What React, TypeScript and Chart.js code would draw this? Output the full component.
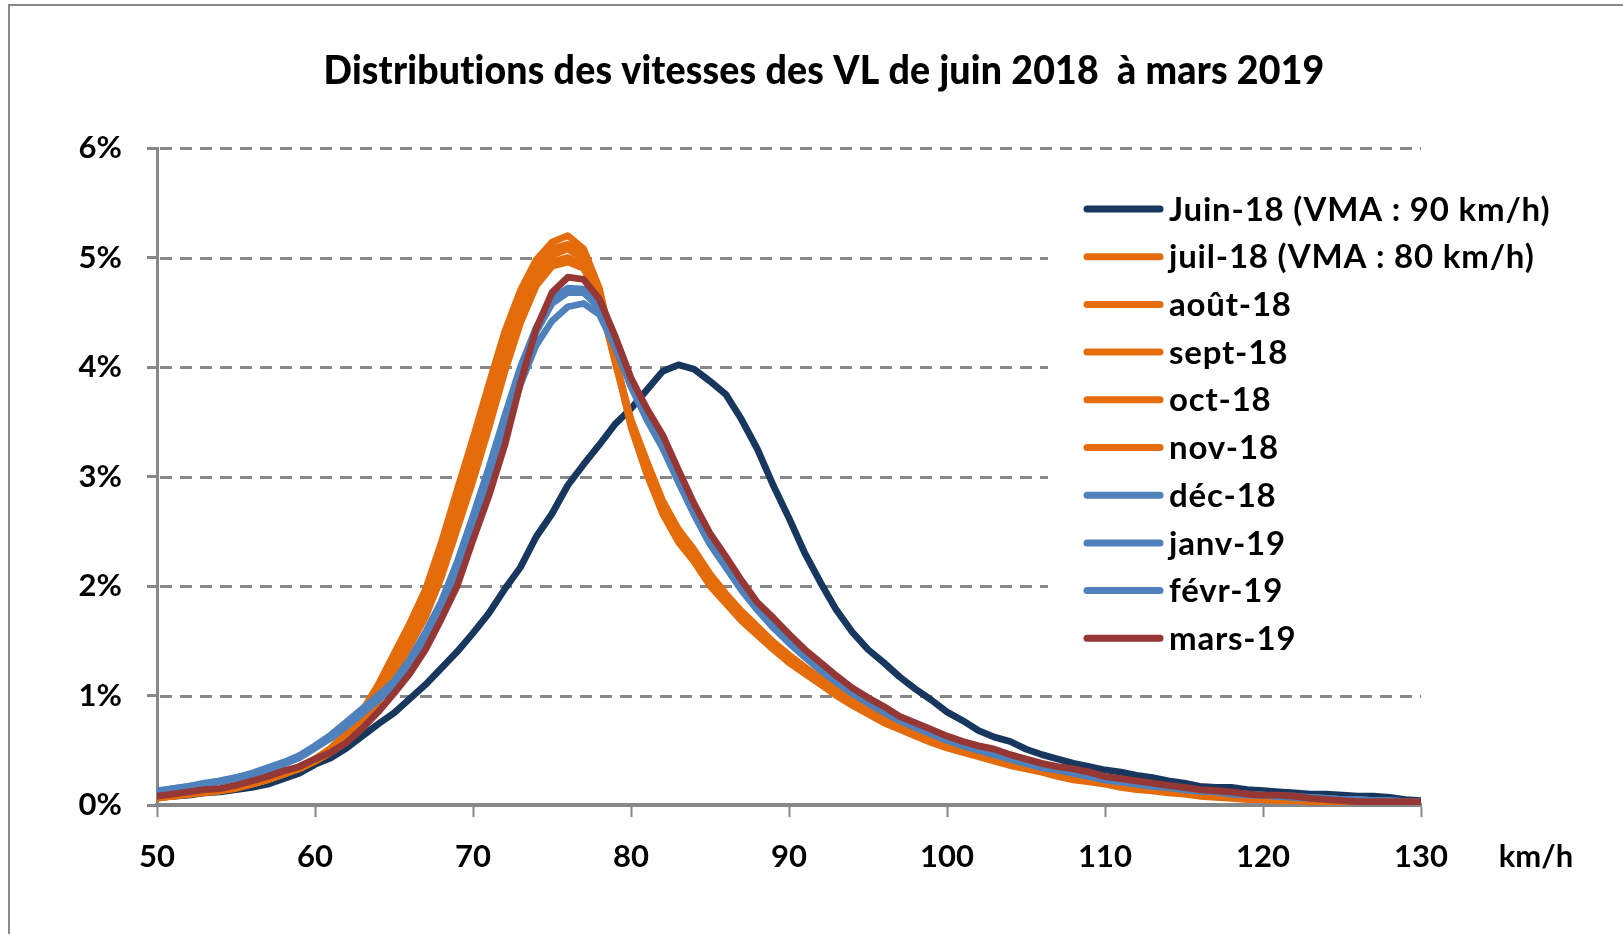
import React, { useEffect, useRef } from 'react';
import { Chart, registerables } from 'chart.js';

Chart.register(...registerables);

const TITLE = 'Distributions des vitesses des VL de juin 2018  à mars 2019';
const X_UNIT = 'km/h';

const speeds = [
  50, 51, 52, 53, 54, 55, 56, 57, 58, 59,
  60, 61, 62, 63, 64, 65, 66, 67, 68, 69,
  70, 71, 72, 73, 74, 75, 76, 77, 78, 79,
  80, 81, 82, 83, 84, 85, 86, 87, 88, 89,
  90, 91, 92, 93, 94, 95, 96, 97, 98, 99,
  100, 101, 102, 103, 104, 105, 106, 107, 108, 109,
  110, 111, 112, 113, 114, 115, 116, 117, 118, 119,
  120, 121, 122, 123, 124, 125, 126, 127, 128, 129, 130,
];

const yTickValues = [0, 1, 2, 3, 4, 5, 6];
const xTickValues = [50, 60, 70, 80, 90, 100, 110, 120, 130];

const seriesLabels = [
  'Juin-18 (VMA : 90 km/h)',
  'juil-18 (VMA : 80 km/h)',
  'août-18',
  'sept-18',
  'oct-18',
  'nov-18',
  'déc-18',
  'janv-19',
  'févr-19',
  'mars-19',
];

const seriesColors = [
  '#17375E',
  '#E46C0A',
  '#E46C0A',
  '#E46C0A',
  '#E46C0A',
  '#E46C0A',
  '#4F81BD',
  '#4F81BD',
  '#4F81BD',
  '#953735',
];

const juin18 = [
  0.07, 0.08, 0.09, 0.11, 0.12, 0.14, 0.16, 0.19, 0.24, 0.29,
  0.37, 0.43, 0.52, 0.63, 0.74, 0.84, 0.97, 1.10, 1.25, 1.40,
  1.57, 1.75, 1.97, 2.17, 2.45, 2.66, 2.92, 3.11, 3.29, 3.48,
  3.62, 3.79, 3.96, 4.02, 3.98, 3.87, 3.75, 3.52, 3.25, 2.92,
  2.62, 2.30, 2.03, 1.78, 1.58, 1.42, 1.30, 1.17, 1.06, 0.96,
  0.85, 0.77, 0.68, 0.62, 0.58, 0.51, 0.46, 0.42, 0.38, 0.35,
  0.32, 0.30, 0.27, 0.25, 0.22, 0.20, 0.17, 0.16, 0.16, 0.14,
  0.13, 0.12, 0.11, 0.10, 0.10, 0.09, 0.08, 0.08, 0.07, 0.05, 0.04,
];

const juil18 = [
  0.06, 0.08, 0.10, 0.11, 0.13, 0.15, 0.19, 0.23, 0.28, 0.35,
  0.42, 0.52, 0.66, 0.86, 1.10, 1.38, 1.66, 1.97, 2.40, 2.88,
  3.35, 3.84, 4.32, 4.70, 4.98, 5.14, 5.20, 5.08, 4.72, 4.08,
  3.45, 3.02, 2.66, 2.40, 2.22, 2.00, 1.84, 1.68, 1.55, 1.42,
  1.30, 1.20, 1.10, 1.00, 0.91, 0.83, 0.75, 0.69, 0.63, 0.57,
  0.52, 0.48, 0.44, 0.40, 0.36, 0.33, 0.30, 0.26, 0.23, 0.21,
  0.19, 0.16, 0.14, 0.13, 0.11, 0.10, 0.08, 0.07, 0.06, 0.05,
  0.05, 0.04, 0.04, 0.03, 0.03, 0.03, 0.03, 0.03, 0.02, 0.02, 0.02,
];

const aout18 = [
  0.07, 0.08, 0.10, 0.12, 0.13, 0.16, 0.19, 0.23, 0.28, 0.34,
  0.42, 0.51, 0.64, 0.83, 1.06, 1.34, 1.62, 1.92, 2.33, 2.80,
  3.26, 3.74, 4.22, 4.62, 4.92, 5.08, 5.12, 5.02, 4.70, 4.08,
  3.50, 3.10, 2.74, 2.47, 2.30, 2.08, 1.90, 1.74, 1.60, 1.47,
  1.35, 1.24, 1.14, 1.04, 0.94, 0.86, 0.78, 0.72, 0.66, 0.60,
  0.55, 0.51, 0.47, 0.42, 0.39, 0.35, 0.32, 0.28, 0.25, 0.22,
  0.20, 0.18, 0.16, 0.14, 0.12, 0.11, 0.09, 0.08, 0.07, 0.06,
  0.05, 0.05, 0.04, 0.04, 0.04, 0.04, 0.03, 0.03, 0.03, 0.03, 0.03,
];

const sept18 = [
  0.07, 0.08, 0.10, 0.12, 0.13, 0.16, 0.19, 0.23, 0.28, 0.34,
  0.41, 0.50, 0.62, 0.80, 1.02, 1.30, 1.56, 1.85, 2.25, 2.70,
  3.15, 3.62, 4.12, 4.52, 4.84, 5.02, 5.08, 4.98, 4.66, 4.05,
  3.48, 3.08, 2.72, 2.45, 2.28, 2.05, 1.88, 1.72, 1.58, 1.45,
  1.33, 1.22, 1.13, 1.03, 0.93, 0.85, 0.77, 0.71, 0.65, 0.59,
  0.54, 0.50, 0.46, 0.41, 0.38, 0.34, 0.31, 0.27, 0.24, 0.22,
  0.20, 0.17, 0.15, 0.14, 0.12, 0.11, 0.09, 0.08, 0.07, 0.06,
  0.05, 0.04, 0.04, 0.04, 0.03, 0.03, 0.03, 0.03, 0.03, 0.03, 0.03,
];

const oct18 = [
  0.07, 0.08, 0.10, 0.12, 0.14, 0.16, 0.19, 0.23, 0.28, 0.33,
  0.40, 0.49, 0.60, 0.77, 0.98, 1.25, 1.50, 1.78, 2.16, 2.60,
  3.05, 3.52, 4.02, 4.44, 4.78, 4.96, 5.00, 4.92, 4.62, 4.04,
  3.50, 3.12, 2.76, 2.50, 2.32, 2.10, 1.92, 1.76, 1.62, 1.48,
  1.36, 1.25, 1.15, 1.05, 0.95, 0.87, 0.79, 0.73, 0.67, 0.61,
  0.56, 0.52, 0.47, 0.43, 0.39, 0.35, 0.32, 0.28, 0.25, 0.23,
  0.21, 0.18, 0.16, 0.14, 0.13, 0.11, 0.10, 0.08, 0.07, 0.06,
  0.06, 0.05, 0.05, 0.04, 0.04, 0.04, 0.04, 0.03, 0.03, 0.03, 0.03,
];

const nov18 = [
  0.08, 0.09, 0.10, 0.12, 0.14, 0.17, 0.20, 0.24, 0.28, 0.33,
  0.40, 0.48, 0.58, 0.74, 0.94, 1.20, 1.45, 1.72, 2.08, 2.52,
  2.96, 3.44, 3.95, 4.40, 4.74, 4.92, 4.96, 4.90, 4.62, 4.06,
  3.52, 3.14, 2.78, 2.52, 2.33, 2.11, 1.93, 1.77, 1.63, 1.49,
  1.37, 1.26, 1.16, 1.06, 0.96, 0.88, 0.80, 0.74, 0.68, 0.62,
  0.57, 0.52, 0.48, 0.44, 0.40, 0.36, 0.32, 0.29, 0.26, 0.23,
  0.21, 0.19, 0.17, 0.15, 0.13, 0.12, 0.10, 0.09, 0.08, 0.07,
  0.06, 0.05, 0.05, 0.05, 0.04, 0.04, 0.04, 0.04, 0.03, 0.03, 0.03,
];

const dec18 = [
  0.13, 0.15, 0.17, 0.20, 0.22, 0.25, 0.29, 0.34, 0.39, 0.45,
  0.54, 0.64, 0.76, 0.88, 1.00, 1.13, 1.33, 1.58, 1.86, 2.22,
  2.64, 3.08, 3.55, 4.00, 4.36, 4.62, 4.72, 4.71, 4.56, 4.22,
  3.85, 3.54, 3.28, 2.97, 2.67, 2.40, 2.19, 1.98, 1.80, 1.64,
  1.50, 1.37, 1.25, 1.14, 1.03, 0.95, 0.86, 0.78, 0.72, 0.66,
  0.60, 0.56, 0.51, 0.47, 0.43, 0.39, 0.35, 0.33, 0.30, 0.27,
  0.24, 0.22, 0.20, 0.18, 0.16, 0.15, 0.13, 0.12, 0.11, 0.10,
  0.09, 0.08, 0.08, 0.07, 0.06, 0.05, 0.05, 0.04, 0.04, 0.03, 0.03,
];

const janv19 = [
  0.12, 0.15, 0.17, 0.19, 0.22, 0.25, 0.28, 0.33, 0.38, 0.44,
  0.53, 0.62, 0.74, 0.86, 0.98, 1.11, 1.30, 1.55, 1.83, 2.18,
  2.60, 3.04, 3.50, 3.96, 4.32, 4.58, 4.68, 4.68, 4.54, 4.21,
  3.84, 3.53, 3.27, 2.96, 2.66, 2.39, 2.18, 1.97, 1.79, 1.63,
  1.49, 1.36, 1.24, 1.13, 1.02, 0.94, 0.85, 0.78, 0.71, 0.65,
  0.59, 0.55, 0.50, 0.46, 0.42, 0.38, 0.35, 0.32, 0.29, 0.26,
  0.23, 0.21, 0.19, 0.17, 0.16, 0.14, 0.13, 0.12, 0.11, 0.10,
  0.09, 0.08, 0.07, 0.07, 0.06, 0.05, 0.05, 0.04, 0.04, 0.03, 0.03,
];

const fevr19 = [
  0.12, 0.14, 0.16, 0.19, 0.21, 0.24, 0.28, 0.32, 0.37, 0.43,
  0.52, 0.61, 0.72, 0.84, 0.96, 1.08, 1.27, 1.50, 1.78, 2.12,
  2.52, 2.95, 3.40, 3.84, 4.20, 4.42, 4.55, 4.58, 4.48, 4.18,
  3.82, 3.52, 3.26, 2.95, 2.65, 2.38, 2.17, 1.96, 1.78, 1.62,
  1.48, 1.35, 1.23, 1.12, 1.02, 0.93, 0.85, 0.77, 0.71, 0.65,
  0.59, 0.54, 0.50, 0.46, 0.42, 0.38, 0.34, 0.32, 0.29, 0.26,
  0.23, 0.21, 0.19, 0.17, 0.16, 0.14, 0.13, 0.12, 0.10, 0.09,
  0.09, 0.08, 0.07, 0.06, 0.06, 0.05, 0.05, 0.04, 0.04, 0.03, 0.03,
];

const mars19 = [
  0.08, 0.10, 0.12, 0.14, 0.15, 0.18, 0.22, 0.26, 0.31, 0.35,
  0.42, 0.48, 0.57, 0.70, 0.85, 1.02, 1.20, 1.42, 1.70, 2.00,
  2.42, 2.82, 3.28, 3.85, 4.35, 4.68, 4.82, 4.80, 4.62, 4.28,
  3.90, 3.62, 3.38, 3.06, 2.75, 2.48, 2.27, 2.05, 1.85, 1.71,
  1.56, 1.42, 1.30, 1.18, 1.07, 0.98, 0.90, 0.81, 0.75, 0.69,
  0.63, 0.58, 0.54, 0.51, 0.46, 0.42, 0.38, 0.35, 0.33, 0.30,
  0.26, 0.24, 0.22, 0.20, 0.18, 0.16, 0.14, 0.13, 0.12, 0.10,
  0.09, 0.09, 0.08, 0.06, 0.05, 0.04, 0.03, 0.03, 0.03, 0.03, 0.03,
];

const seriesValues = [juin18, juil18, aout18, sept18, oct18, nov18, dec18, janv19, fevr19, mars19];

const FONT = 'Lato, "Open Sans", "DejaVu Sans", sans-serif';
const GRID_COLOR = '#878787';

const decoPlugin = {
  id: 'deco',
  beforeDatasetsDraw(chart: any) {
    const { ctx, chartArea, scales } = chart;
    const y = scales.y;
    ctx.save();
    ctx.strokeStyle = GRID_COLOR;
    ctx.lineWidth = 3;
    ctx.setLineDash([12, 8]);
    for (const t of yTickValues) {
      if (t === 0) continue;
      const py = Math.round(y.getPixelForValue(t)) + 0.5;
      ctx.beginPath();
      ctx.moveTo(chartArea.left + 3, py);
      ctx.lineTo(chartArea.right, py);
      ctx.stroke();
    }
    ctx.restore();
  },
  afterDraw(chart: any) {
    const { ctx, chartArea } = chart;
    ctx.save();
    // outer frame
    ctx.strokeStyle = '#888888';
    ctx.lineWidth = 2;
    ctx.setLineDash([]);
    ctx.beginPath();
    ctx.moveTo(9, 2000);
    ctx.lineTo(9, 5);
    ctx.lineTo(1700, 5);
    ctx.stroke();

    // title, fitted to the reference width
    ctx.fillStyle = '#000';
    ctx.font = `900 39px ${FONT}`;
    try { (ctx as any).letterSpacing = '0.2px'; } catch (e) { /* ignore */ }
    ctx.textBaseline = 'middle';
    ctx.textAlign = 'center';
    const tw = ctx.measureText(TITLE).width;
    const target = 1001;
    const sx = target / tw;
    ctx.save();
    ctx.translate(824, 71);
    ctx.scale(sx, 1);
    ctx.fillText(TITLE, 0, 0);
    ctx.restore();
    try { (ctx as any).letterSpacing = '0px'; } catch (e) { /* ignore */ }

    // axis unit
    ctx.font = `bold 31px ${FONT}`;
    ctx.textAlign = 'center';
    ctx.fillText(X_UNIT, chartArea.right + 115, chart.scales.x.top + 52);

    // legend
    ctx.fillStyle = '#ffffff';
    ctx.fillRect(1048, 185, 560, 480);
    const rowY0 = 209;
    const rowGap = 47.7;
    chart.data.datasets.forEach((ds: any, i: number) => {
      const yy = rowY0 + i * rowGap;
      ctx.strokeStyle = ds.borderColor;
      ctx.lineWidth = 7;
      ctx.lineCap = 'round';
      ctx.beginPath();
      ctx.moveTo(1087, yy);
      ctx.lineTo(1160, yy);
      ctx.stroke();
      ctx.fillStyle = '#000';
      ctx.font = `bold 33px ${FONT}`;
      try { (ctx as any).letterSpacing = '0.8px'; } catch (e) { /* ignore */ }
      ctx.textAlign = 'left';
      ctx.textBaseline = 'middle';
      ctx.fillText(ds.label, 1169, yy + 1);
    });
    try { (ctx as any).letterSpacing = '0px'; } catch (e) { /* ignore */ }
    ctx.restore();
  },
};

export default function App() {
  const canvasRef = useRef<HTMLCanvasElement | null>(null);

  useEffect(() => {
    const canvas = canvasRef.current;
    if (!canvas) return;
    const datasets = seriesLabels.map((label, i) => ({
      label,
      data: speeds.map((s, k) => ({ x: s, y: seriesValues[i][k] })),
      borderColor: seriesColors[i],
      backgroundColor: seriesColors[i],
      borderWidth: 6.8,
      pointRadius: 0,
      pointHoverRadius: 0,
      tension: 0,
      fill: false,
      borderJoinStyle: 'round' as const,
      borderCapStyle: 'round' as const,
      order: seriesLabels.length - 1 - i,
    }));

    const chart = new Chart(canvas, {
      type: 'line',
      data: { datasets },
      options: {
        animation: false,
        responsive: false,
        maintainAspectRatio: false,
        devicePixelRatio: 1,
        events: [],
        layout: { padding: { left: 0, top: 148, right: 202, bottom: 0 } },
        plugins: {
          legend: { display: false },
          title: { display: false },
          tooltip: { enabled: false },
        },
        scales: {
          x: {
            type: 'linear',
            min: 50,
            max: 130,
            afterFit: (scale: any) => {
              scale.height = 129;
            },
            afterBuildTicks: (scale: any) => {
              scale.ticks = xTickValues.map((v) => ({ value: v }));
            },
            ticks: {
              stepSize: 10,
              color: '#000',
              padding: 21,
              maxRotation: 0,
              autoSkip: false,
              font: { family: FONT, size: 31, weight: 'bold' },
            },
            grid: {
              display: true,
              drawOnChartArea: false,
              drawTicks: true,
              tickLength: 12,
              tickWidth: 2,
              tickColor: GRID_COLOR,
              color: GRID_COLOR,
            },
            border: { display: true, color: GRID_COLOR, width: 4 },
          },
          y: {
            type: 'linear',
            min: 0,
            max: 6,
            afterFit: (scale: any) => {
              scale.width = 157;
            },
            afterBuildTicks: (scale: any) => {
              scale.ticks = yTickValues.map((v) => ({ value: v }));
            },
            ticks: {
              stepSize: 1,
              color: '#000',
              padding: 25,
              font: { family: FONT, size: 31, weight: 'bold' },
              callback: (v: any) => `${v}%`,
            },
            grid: {
              display: true,
              drawOnChartArea: false,
              drawTicks: true,
              tickLength: 10,
              tickWidth: 3,
              tickColor: GRID_COLOR,
              color: GRID_COLOR,
            },
            border: { display: true, color: GRID_COLOR, width: 3 },
          },
        },
      },
      plugins: [decoPlugin],
    } as any);

    return () => {
      chart.destroy();
    };
  }, []);

  return (
    <div style={{ position: 'fixed', left: 0, top: 0, width: 1623, height: 934, background: '#fff' }}>
      <canvas ref={canvasRef} width={1623} height={934} style={{ display: 'block', width: 1623, height: 934 }} />
    </div>
  );
}
